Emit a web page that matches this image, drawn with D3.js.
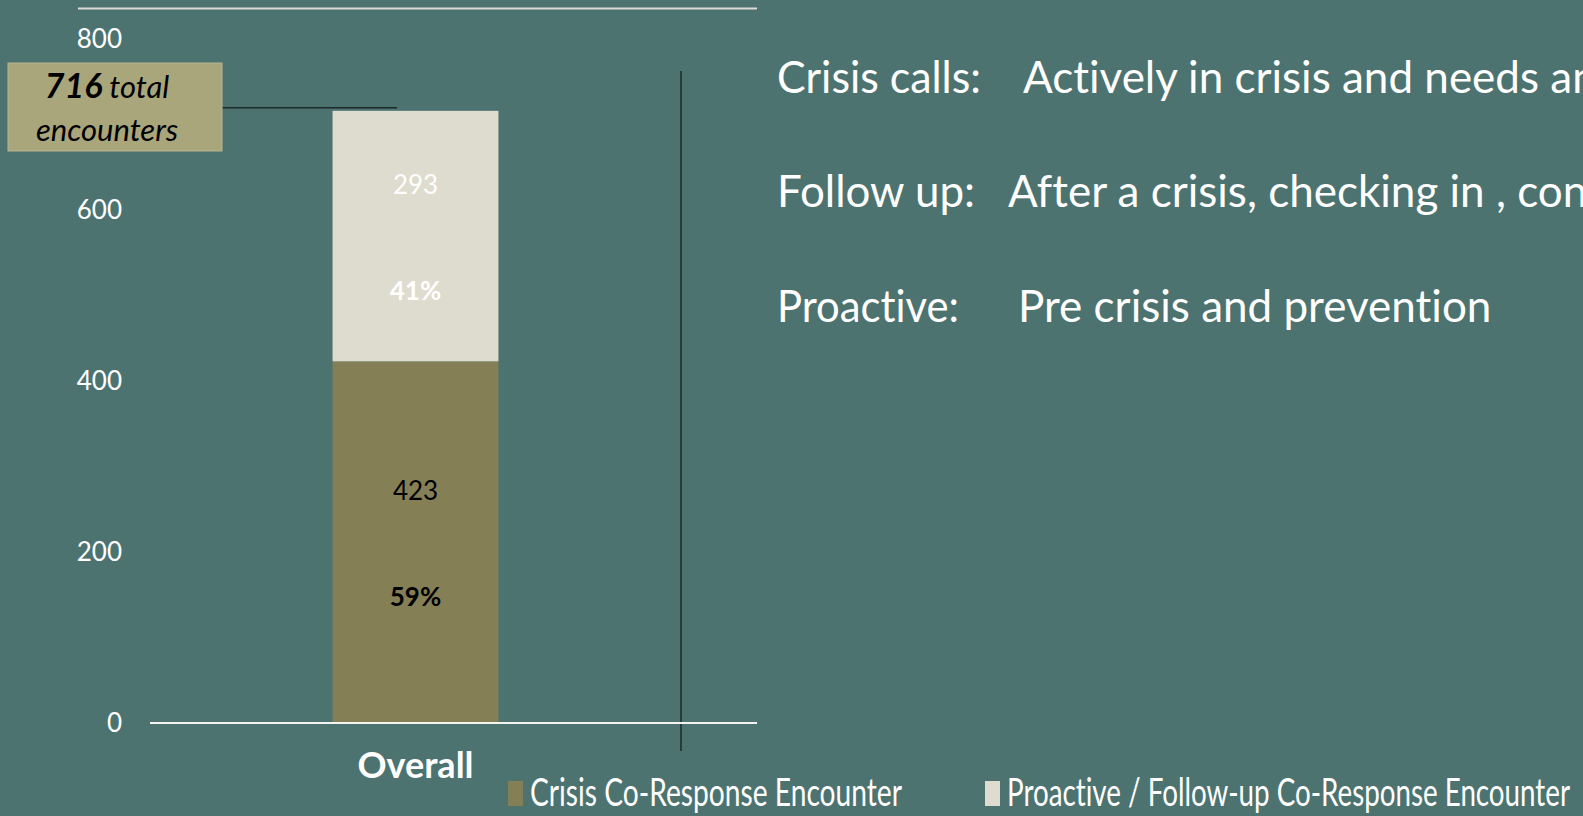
<!DOCTYPE html>
<html>
<head>
<meta charset="utf-8">
<script src="https://cdn.jsdelivr.net/npm/d3@7"></script>
<style>
  html, body { margin: 0; padding: 0; background: #4d7371; overflow: hidden; }
  svg { display: block; font-family: Lato, "Open Sans", sans-serif; font-variant-ligatures: none; }
  svg text { font-family: Lato, "Open Sans", sans-serif; }
  .tick text { fill: #ffffff; }
</style>
</head>
<body>
<svg id="chart" width="1583" height="816"></svg>
<script>
// data
const categories = ["Overall"];
const crisisCounts = [423];
const proactiveCounts = [293];
const yTicks = [0, 200, 400, 600, 800];
const seriesNames = ["Crisis Co-Response Encounter", "Proactive / Follow-up Co-Response Encounter"];
const seriesColors = ["#857f56", "#dedcce"];
const labelColors = ["#000000", "#ffffff"];
const defTerms = ["Crisis calls:", "Follow up:", "Proactive:"];
const defTexts = [
  "Actively in crisis and needs an immediate response",
  "After a crisis, checking in , connecting to services",
  "Pre crisis and prevention"
];

const svg = d3.select("#chart");

// scales
let x = d3.scaleBand().domain(categories).range([150, 681]).padding(0.524);
let y = d3.scaleLinear().domain([0, 800]).range([723, 39]);

// stacked data
let rows = categories.map((c, i) => ({ cat: c, crisis: crisisCounts[i], proactive: proactiveCounts[i] }));
let stack = d3.stack().keys(["crisis", "proactive"])(rows);
let pct = d3.format(".0%");

// frame lines
svg.append("line")
  .attr("x1", 78).attr("x2", 757).attr("y1", 8.5).attr("y2", 8.5)
  .attr("stroke", "#dcdcd6").attr("stroke-width", 2);
svg.append("line")
  .attr("x1", 681).attr("x2", 681).attr("y1", 71).attr("y2", 751)
  .attr("stroke", "#1e2a2a").attr("stroke-width", 1.5);

// bars
let layers = svg.selectAll("g.layer")
  .data(stack)
  .enter()
  .append("g")
  .attr("class", "layer")
  .attr("fill", (d, i) => seriesColors[i]);

layers.selectAll("rect")
  .data(d => d)
  .enter()
  .append("rect")
  .attr("x", d => x(d.data.cat))
  .attr("width", x.bandwidth())
  .attr("y", d => y(d[1]))
  .attr("height", d => y(d[0]) - y(d[1]));

// value and percentage labels inside each segment
stack.forEach((layer, i) => {
  layer.forEach(d => {
    let total = d.data.crisis + d.data.proactive;
    let v = d[1] - d[0];
    let cx = x(d.data.cat) + x.bandwidth() / 2;
    let mid = (y(d[0]) + y(d[1])) / 2;
    let g = svg.append("g").attr("fill", labelColors[i]).attr("text-anchor", "middle").style("font-size", "26px");
    g.append("text")
      .attr("x", cx).attr("y", mid - 51)
      .attr("dy", "0.35em")
      .text(v);
    g.append("text")
      .attr("x", cx).attr("y", mid + 55)
      .attr("dy", "0.35em")
      .style("font-weight", "bold")
      .text(pct(v / total));
  });
});

// axes
let yAxis = svg.append("g")
  .attr("transform", "translate(150,0)")
  .call(d3.axisLeft(y).tickValues(yTicks).tickSize(0).tickPadding(28));
yAxis.select(".domain").remove();
yAxis.selectAll("text").style("font-size", "26px");

let xAxis = svg.append("g")
  .attr("transform", "translate(0," + y(0) + ")")
  .call(d3.axisBottom(x).tickSize(0).tickPadding(29));
xAxis.select(".domain").remove();
xAxis.selectAll("text").style("font-size", "36px").style("font-weight", "bold");

svg.append("line")
  .attr("x1", 150).attr("x2", 757).attr("y1", y(0)).attr("y2", y(0))
  .attr("stroke", "#f4f4f0").attr("stroke-width", 2);

// total callout
let total = crisisCounts[0] + proactiveCounts[0];
svg.append("line")
  .attr("x1", 222).attr("x2", 397)
  .attr("y1", y(total) - 3).attr("y2", y(total) - 3)
  .attr("stroke", "#1e2a2a").attr("stroke-width", 1.5);
svg.append("rect")
  .attr("x", 8).attr("y", 63).attr("width", 214).attr("height", 88)
  .attr("fill", "#a9a67c").attr("stroke", "#b8b58e").attr("stroke-width", 1);
let box = svg.append("text")
  .attr("x", 107).attr("text-anchor", "middle")
  .attr("fill", "#000").style("font-style", "italic").style("font-size", "31px");
box.append("tspan").attr("x", 107).attr("y", 98)
  .style("font-weight", "bold").style("font-size", "34px").text(total);
box.append("tspan").text(" total");
box.append("tspan").attr("x", 107).attr("y", 141).text("encounters");

// legend
let legendX = [508, 985];
let legendW = [372, 563];
let legend = svg.selectAll("g.legend")
  .data(seriesNames)
  .enter()
  .append("g")
  .attr("class", "legend")
  .attr("transform", (d, i) => "translate(" + legendX[i] + ",0)");
legend.append("rect")
  .attr("x", 0).attr("y", 781).attr("width", 15).attr("height", 25)
  .attr("fill", (d, i) => seriesColors[i]);
legend.append("text")
  .attr("x", 22).attr("y", 806)
  .attr("fill", "#fff")
  .style("font-size", "39px")
  .attr("textLength", (d, i) => legendW[i])
  .attr("lengthAdjust", "spacingAndGlyphs")
  .text(d => d);

// definitions on the right (run past the edge as on the slide)
let defY = [93, 207, 322];
let defX = [1023, 1008, 1018];
let termW = [204, 198, 182];
defTerms.forEach((t, i) => {
  svg.append("text")
    .attr("x", 777).attr("y", defY[i])
    .attr("fill", "#fff").style("font-size", "44px")
    .attr("textLength", termW[i]).attr("lengthAdjust", "spacingAndGlyphs")
    .text(t);
  svg.append("text")
    .attr("x", defX[i]).attr("y", defY[i])
    .attr("fill", "#fff").style("font-size", "44px")
    .text(defTexts[i]);
});
</script>
</body>
</html>
